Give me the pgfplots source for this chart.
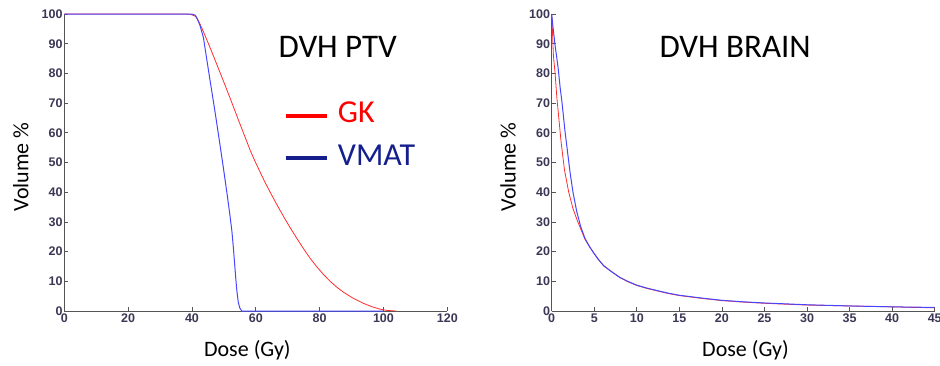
\documentclass[border=0pt]{standalone}
\usepackage{fontspec}
\setmainfont{Carlito}
\newfontfamily\tickfont{Liberation Sans}
\usepackage{pgfplots}
\pgfplotsset{compat=1.18}
\definecolor{tickcol}{RGB}{60,55,85}
\definecolor{gkred}{RGB}{255,45,45}
\definecolor{vmatblue}{RGB}{70,70,255}
\definecolor{legred}{RGB}{255,0,0}
\definecolor{legblue}{RGB}{20,30,140}
\definecolor{axcol}{RGB}{85,85,85}
\pgfplotsset{dvh/.style={
  scale only axis, width=383pt, height=297pt,
  axis x line=bottom, axis y line=left,
  axis line style={-, axcol, line width=0.8pt},
  tick align=inside, major tick length=4pt, tick style={axcol, line width=0.8pt},
  ymin=0, ymax=100, ytick={0,10,...,100},
  ticklabel style={font=\tickfont\bfseries\fontsize{12.5}{14}\selectfont, text=tickcol},
  yticklabel style={inner sep=1.5pt},
  xticklabel style={inner sep=2.5pt},
  /pgf/number format/assume math mode=true,
  label style={font=\fontsize{22}{26}\selectfont},
  ylabel={Volume \%},
  xlabel={Dose (Gy)},
  ylabel style={at={(axis description cs:-0.094,0.485)}, anchor=base},
  clip=false,
}}
\pgfplotstableread{
x y
0 100
38 100
39.4 99.9
41 99.3
42 97.8
43 95.5
44 93
45.7 88.6
47.2 84.6
48.8 80.3
50.3 76.2
51.9 71.8
53.5 67.3
55.1 62.8
56.7 58.4
58.2 54.2
59.8 50.3
61.3 46.9
62.9 43.3
64.5 40.0
66 37.0
67.5 34.1
69.2 30.9
70.8 28.0
73 24.2
75 20.9
77 17.8
79.1 14.9
81.2 12.3
83.3 10.0
85.4 8.0
87.5 6.3
90.5 4.3
93.7 2.6
96.5 1.4
99 0.6
101 0.2
104 0
}\gkptv
\pgfplotstableread{
x y
0 100
40 100
41 99.6
41.5 98.8
42.5 96.2
43.6 92
44.6 85
45.7 77.4
46.8 70
47.8 63
48.8 55.8
49.8 48.5
50.9 40.2
51.9 32.2
52.5 27
53 21
53.5 14
54 7.5
54.5 3
55 1
55.6 0
100 0
}\vmatptv
\pgfplotstableread{
x y
0 100
0.05 97
0.2 86
0.4 80
0.6 72
0.8 66
1.1 57
1.5 47.5
2.0 40
2.5 34.5
3.0 30.5
3.5 27
3.9 24.2
4.4 21.8
4.9 19.7
5.5 17.3
6.1 15.2
7 13.3
8 11.3
9 9.8
10 8.6
11.2 7.6
12.5 6.7
13.7 5.9
15 5.2
17.5 4.3
20 3.5
22.5 3
25 2.6
27.5 2.3
30 2
35 1.7
40 1.4
42.5 1.2
45 1.1
}\gkbrain
\pgfplotstableread{
x y
0 100
0.1 97
0.39 89.6
0.75 82
1.0 75
1.2 70.5
1.57 60.3
1.8 55
2.16 46.6
2.5 40
2.94 33.5
3.4 28.5
3.9 24.5
4.4 21.9
4.9 19.7
5.5 17.3
6.1 15.3
7 13.3
8 11.3
9 9.9
10 8.7
11.2 7.7
12.5 6.8
13.7 6
15 5.3
17.5 4.4
20 3.6
22.5 3.1
25 2.7
27.5 2.4
30 2.1
35 1.7
40 1.4
42.5 1.3
45 1.2
}\vmatbrain
\begin{document}
\begin{tikzpicture}[x=1pt,y=1pt]
\path[use as bounding box] (0,0) rectangle (940,365);
\begin{axis}[dvh, at={(64.3pt,54pt)}, anchor=south west,
  xmin=0, xmax=120, xtick={0,20,...,120},
  xlabel style={at={(axis description cs:0.478,0)}, yshift=-45pt, anchor=base}]
  \addplot[gkred, line width=0.8pt] table {\gkptv};
  \addplot[vmatblue, line width=1pt] table {\vmatptv};
  \node[anchor=base, font=\fontsize{33}{38}\selectfont] at (axis description cs:0.714,0.852) {DVH PTV};
  \draw[legred, line width=3.5pt] (axis description cs:0.578,0.657) -- (axis description cs:0.685,0.657);
  \node[anchor=base west, inner sep=0pt, text=legred, font=\fontsize{32}{38}\selectfont] at (axis description cs:0.714,0.634) {GK};
  \draw[legblue, line width=3.5pt] (axis description cs:0.578,0.515) -- (axis description cs:0.685,0.515);
  \node[anchor=base west, inner sep=0pt, text=legblue, font=\fontsize{32}{38}\selectfont] at (axis description cs:0.714,0.489) {VMAT};
\end{axis}
\begin{axis}[dvh, at={(551.7pt,54pt)}, anchor=south west,
  xmin=0, xmax=45, xtick={0,5,...,45},
  xlabel style={at={(axis description cs:0.506,0)}, yshift=-45pt, anchor=base}]
  \addplot[gkred, line width=0.8pt] table {\gkbrain};
  \addplot[vmatblue, line width=1pt] table {\vmatbrain};
  \node[anchor=base, font=\fontsize{33}{38}\selectfont] at (axis description cs:0.479,0.852) {DVH BRAIN};
\end{axis}
\end{tikzpicture}
\end{document}
